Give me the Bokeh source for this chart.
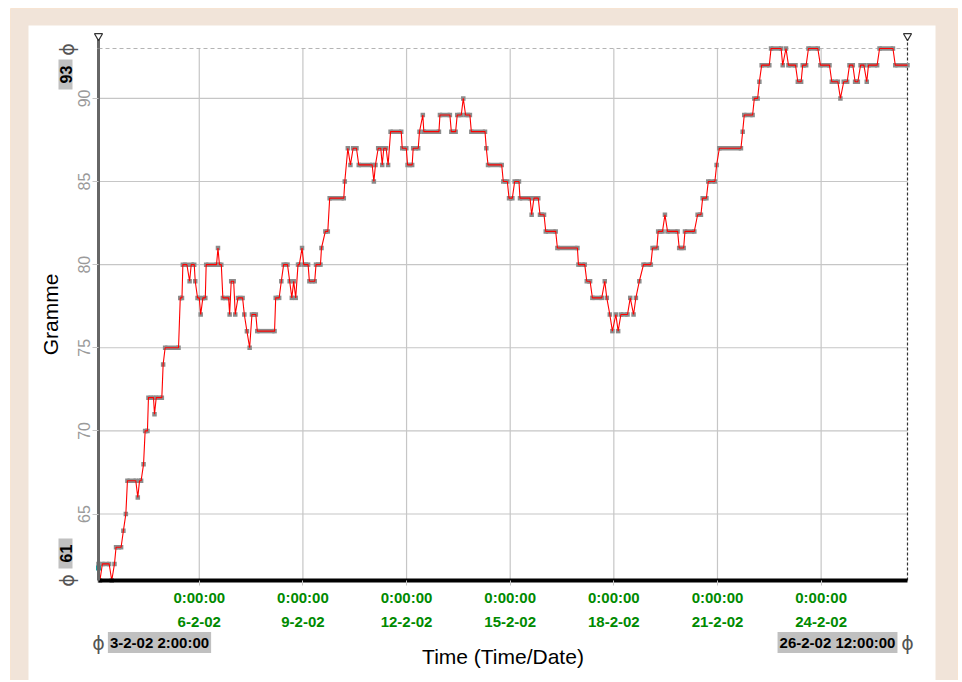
import numpy as np
import pandas as pd
from bokeh.plotting import figure
from bokeh.models import (FixedTicker, Label, BoxAnnotation, Range1d, ColumnDataSource,
                          LinearAxis, DatetimeAxis)
from bokeh.embed import file_html
from bokeh.resources import INLINE

# ---------------- data ----------------
start_time = "2002-02-03 02:00"
end_time = "2002-02-26 12:00"

# run-length description of the series: each run holds one value
run_start_h = [0.0, 1.0, 2.7, 9.2, 11.1, 12.2, 17.3, 19.0, 20.1, 27.3, 28.5, 31.3,
               32.4, 34.7, 38.9, 40.1, 44.9, 46.3, 56.8, 58.6, 63.3, 64.4, 67.2, 68.8,
               71.0, 72.5, 74.8, 83.0, 84.0, 86.4, 91.1, 92.2, 95.0, 96.9, 101.3, 103.1,
               105.0, 106.6, 110.3, 123.1, 127.0, 128.6, 132.8, 134.3, 135.6, 137.0, 138.6,
               141.4, 142.6, 146.5, 151.1, 154.9, 157.6, 160.6, 171.1, 173.2, 175.0, 176.9,
               180.8, 191.3, 192.4, 194.3, 197.1, 198.2, 201.2, 202.9, 211.0, 214.7, 218.6,
               223.0, 225.3, 226.0, 237.2, 245.1, 249.2, 253.4, 255.0, 259.0, 269.4, 270.6,
               281.2, 285.2, 289.1, 292.8, 300.9, 302.5, 306.7, 310.7, 318.8, 333.4, 339.2,
               343.1, 351.7, 353.1, 355.2, 357.0, 359.4, 361.0, 362.9, 369.4, 371.7, 373.3,
               375.7, 378.6, 384.9, 388.8, 393.5, 395.3, 403.4, 407.4, 416.2, 419.7, 423.6,
               429.4, 431.3, 447.5, 448.6, 455.6, 459.1, 460.7, 467.2, 475.3, 477.6, 479.3,
               485.8, 489.2, 493.2, 501.5, 509.4, 515.4, 517.7, 521.7, 525.6, 529.4, 533.7,
               534.9, 542.6, 553.5]
run_end_h = [0.0, 1.0, 7.4, 9.2, 11.1, 15.7, 17.3, 19.0, 25.9, 27.3, 29.6, 31.3,
             34.0, 38.2, 38.9, 44.0, 44.9, 55.6, 58.0, 61.4, 63.3, 66.5, 67.2, 70.0,
             71.0, 74.2, 82.0, 83.0, 85.3, 90.4, 91.1, 93.9, 95.0, 100.1, 101.3, 103.1,
             105.0, 109.3, 122.3, 125.5, 127.0, 131.3, 132.8, 134.3, 135.6, 137.0, 139.5,
             141.4, 145.6, 150.2, 154.2, 154.9, 159.3, 170.4, 171.1, 173.2, 175.0, 179.2,
             190.1, 191.3, 192.4, 196.1, 197.1, 199.8, 201.2, 210.3, 213.8, 217.9, 222.1,
             223.0, 225.3, 236.5, 244.1, 248.1, 252.0, 253.4, 258.0, 268.5, 269.4, 280.1,
             284.0, 287.5, 292.1, 299.8, 300.9, 305.5, 309.5, 317.6, 332.7, 337.8, 341.5,
             349.6, 351.7, 353.1, 355.2, 357.0, 359.4, 361.0, 367.5, 369.4, 371.7, 373.3,
             375.7, 383.7, 387.9, 391.8, 393.5, 402.3, 406.5, 413.9, 418.5, 422.3, 428.2,
             429.4, 446.3, 447.5, 454.4, 457.9, 459.1, 466.0, 474.2, 475.3, 477.6, 484.2,
             488.1, 491.6, 499.7, 507.8, 513.6, 515.4, 520.1, 524.0, 527.5, 531.7, 533.7,
             540.9, 551.9, 562.0]
run_value = [62, 61, 62, 61, 62, 63, 64, 65, 67, 66, 67, 68,
             70, 72, 71, 72, 74, 75, 78, 80, 79, 80, 79, 78,
             77, 78, 80, 81, 80, 78, 77, 79, 77, 78, 77, 76,
             75, 77, 76, 78, 79, 80, 79, 78, 79, 78, 80,
             81, 80, 79, 80, 81, 82, 84, 85, 87, 86, 87,
             86, 85, 86, 87, 86, 87, 86, 88, 87, 86, 87,
             88, 89, 88, 89, 88, 89, 90, 89, 88, 87, 86,
             85, 84, 85, 84, 83, 84, 83, 82, 81, 80, 79,
             78, 79, 78, 77, 76, 77, 76, 77, 78, 77, 78,
             79, 80, 81, 82, 83, 82, 81, 82, 83, 84, 85,
             86, 87, 88, 89, 90, 91, 92, 93, 92, 93, 92,
             91, 92, 93, 92, 91, 90, 91, 92, 91, 92, 91,
             92, 93, 92]

x_tick_dates = ["2002-02-06", "2002-02-09", "2002-02-12", "2002-02-15",
                "2002-02-18", "2002-02-21", "2002-02-24"]
x_tick_labels = ["0:00:00\n6-2-02", "0:00:00\n9-2-02", "0:00:00\n12-2-02",
                 "0:00:00\n15-2-02", "0:00:00\n18-2-02", "0:00:00\n21-2-02",
                 "0:00:00\n24-2-02"]
y_ticks = [65, 70, 75, 80, 85, 90]
y_min, y_max = 61, 93
start_label = "3-2-02 2:00:00"
end_label = "26-2-02 12:00:00"

# ---------------- layout constants (pixels) ----------------
W, H = 960, 680
PL, PR, PT, PB = 98, 907, 48, 580      # plot-area edges on the canvas

t0 = pd.Timestamp(start_time)
t1 = pd.Timestamp(end_time)
to_ms = lambda ts: ts.value / 1e6
t0_ms, t1_ms = to_ms(t0), to_ms(t1)
ms_per_px = (t1_ms - t0_ms) / (PR - PL)
u_per_px = (y_max - y_min) / (PB - PT)

x_lo = t0_ms - PL * ms_per_px
x_hi = t1_ms + (W - PR) * ms_per_px
y_lo = y_min - (H - PB) * u_per_px
y_hi = y_max + PT * u_per_px

# ---------------- series points ----------------
px, py = [], []
sx0, sx1, sy = [], [], []
for s, e, v in zip(run_start_h, run_end_h, run_value):
    px.append(t0 + pd.Timedelta(hours=s)); py.append(v)
    if e > s:
        px.append(t0 + pd.Timedelta(hours=e)); py.append(v)
        sx0.append(t0 + pd.Timedelta(hours=s)); sx1.append(t0 + pd.Timedelta(hours=e)); sy.append(v)
pts = ColumnDataSource(dict(x=px, y=py))
segs = ColumnDataSource(dict(x0=sx0, x1=sx1, y=sy))
tick_ms = [to_ms(pd.Timestamp(d)) for d in x_tick_dates]

# ---------------- figure ----------------
p = figure(width=W, height=H, x_axis_type=None, y_axis_type=None,
           x_range=Range1d(x_lo, x_hi), y_range=Range1d(y_lo, y_hi),
           output_backend="svg", toolbar_location=None, min_border=0)
p.border_fill_color = "white"
p.background_fill_color = "white"
p.outline_line_color = None
p.grid.visible = False

# page decoration: beige band with orange rim, white panel
p.add_layout(BoxAnnotation(left=10, right=957, top=8, bottom=720,
                           left_units="canvas", right_units="canvas",
                           top_units="canvas", bottom_units="canvas",
                           fill_color="#f1e4d9", fill_alpha=1,
                           line_color="#f6c896", line_width=1, level="image"))
p.add_layout(BoxAnnotation(left=28, right=935, top=25, bottom=720,
                           left_units="canvas", right_units="canvas",
                           top_units="canvas", bottom_units="canvas",
                           fill_color="white", fill_alpha=1,
                           line_color=None, level="image"))

# grid lines (inside the plot area only)
p.segment(x0=tick_ms, x1=tick_ms, y0=[y_min] * len(tick_ms), y1=[y_max] * len(tick_ms),
          line_color="#c6c6c6", line_width=1.2)
p.segment(x0=[t0_ms] * len(y_ticks), x1=[t1_ms] * len(y_ticks), y0=y_ticks, y1=y_ticks,
          line_color="#c6c6c6", line_width=1.2)
# upper limit (dashed) and right edge (dashed)
ext = 10 * u_per_px
p.segment(x0=[t0_ms], x1=[t1_ms], y0=[y_max], y1=[y_max], line_color="#b4b4b4",
          line_dash="4 3", line_width=1)
p.segment(x0=[t1_ms], x1=[t1_ms], y0=[y_min], y1=[y_max + ext], line_color="#333333",
          line_dash="3 2", line_width=1.2)
p.segment(x0=[t0_ms], x1=[t0_ms], y0=[y_max], y1=[y_max + ext], line_color="#666666",
          line_width=3)
p.scatter(x=[t0_ms, t1_ms], y=[y_max + ext + 2.5 * u_per_px] * 2, marker="inverted_triangle",
          size=8, fill_color="white", line_color="#333333", line_width=1.2)

# x axis (datetime) fixed at the lower limit
xa = DatetimeAxis(fixed_location=y_min, bounds=(t0_ms, t1_ms))
xa.ticker = FixedTicker(ticks=tick_ms)
xa.major_label_overrides = {t: lab for t, lab in zip(tick_ms, x_tick_labels)}
xa.minor_tick_line_color = None
xa.major_tick_in = 0
xa.major_tick_out = 5
xa.major_tick_line_color = "#c6c6c6"
xa.axis_line_color = "black"
xa.axis_line_width = 4
xa.major_label_text_color = "#008a00"
xa.major_label_text_font = "Liberation Sans"
xa.major_label_text_font_style = "bold"
xa.major_label_text_font_size = "15px"
xa.major_label_text_line_height = 1.45
xa.major_label_standoff = 3
xa.axis_label = "Time (Time/Date)"
xa.axis_label_text_font = "Liberation Sans"
xa.axis_label_text_font_style = "normal"
xa.axis_label_text_font_size = "21px"
xa.axis_label_text_color = "black"
xa.axis_label_standoff = 12
p.add_layout(xa, "below")

# y axis fixed at the start time
ya = LinearAxis(fixed_location=t0_ms, bounds=(y_min, y_max))
ya.ticker = FixedTicker(ticks=y_ticks)
ya.minor_tick_line_color = None
ya.major_tick_in = 0
ya.major_tick_out = 6
ya.major_tick_line_color = "#c6c6c6"
ya.axis_line_color = "#666666"
ya.axis_line_width = 3
ya.major_label_orientation = "vertical"
ya.major_label_text_color = "#9a9a9a"
ya.major_label_text_font = "Liberation Sans"
ya.major_label_text_font_size = "16px"
ya.major_label_standoff = 3
ya.axis_label = "Gramme"
ya.axis_label_text_font = "Liberation Sans"
ya.axis_label_text_font_style = "normal"
ya.axis_label_text_font_size = "21px"
ya.axis_label_text_color = "black"
ya.axis_label_standoff = 13
p.add_layout(ya, "left")

# data
p.segment(x0="x0", y0="y", x1="x1", y1="y", source=segs,
          line_color="#8c8c8c", line_width=4.5)
p.scatter(x="x", y="y", source=pts, marker="square", size=4.5,
          fill_color="#8c8c8c", line_color=None)
p.line(x="x", y="y", source=pts, line_color="#ff0000", line_width=1.1)
p.scatter(x=[px[0]], y=[py[0] - 0.25], marker="square", size=5,
          fill_color="#1a9a9a", line_color=None)

# limit boxes and range handles
box_kw = dict(text_font="Liberation Sans", text_font_style="bold",
              text_color="black", background_fill_color="#c0c0c0",
              text_align="center", text_baseline="middle")


def limit_box(pad, **kw):
    lab = Label(**box_kw, **kw)
    try:
        lab.padding = pad
    except Exception:
        lab.padding = 3
    return lab


p.add_layout(limit_box((6, 1), x=t0_ms, y=y_max, x_offset=-33, y_offset=-26,
                       text=str(y_max), angle=np.pi / 2, text_font_size="16px"))
p.add_layout(limit_box((6, 1), x=t0_ms, y=y_min, x_offset=-33, y_offset=27,
                       text=str(y_min), angle=np.pi / 2, text_font_size="16px"))
p.add_layout(limit_box((2, 2), x=t0_ms, y=y_min, x_offset=61, y_offset=-62,
                       text=start_label, text_font_size="15px"))
p.add_layout(limit_box((2, 2), x=t1_ms, y=y_min, x_offset=-70, y_offset=-62,
                       text=end_label, text_font_size="15px"))
handle_kw = dict(text="ϕ", text_align="center", text_baseline="middle",
                 text_font="DejaVu Sans", text_font_size="19px", text_color="#555555")
p.add_layout(Label(x=t0_ms, y=y_max, x_offset=-32, y_offset=-1, angle=np.pi / 2,
                   **handle_kw))
p.add_layout(Label(x=t0_ms, y=y_min, x_offset=-32, y_offset=0, angle=np.pi / 2,
                   **handle_kw))
p.add_layout(Label(x=t0_ms, y=y_min, x_offset=0, y_offset=-62, **handle_kw))
p.add_layout(Label(x=t1_ms, y=y_min, x_offset=0, y_offset=-62, **handle_kw))

open("out.html", "w").write(file_html(p, INLINE))
